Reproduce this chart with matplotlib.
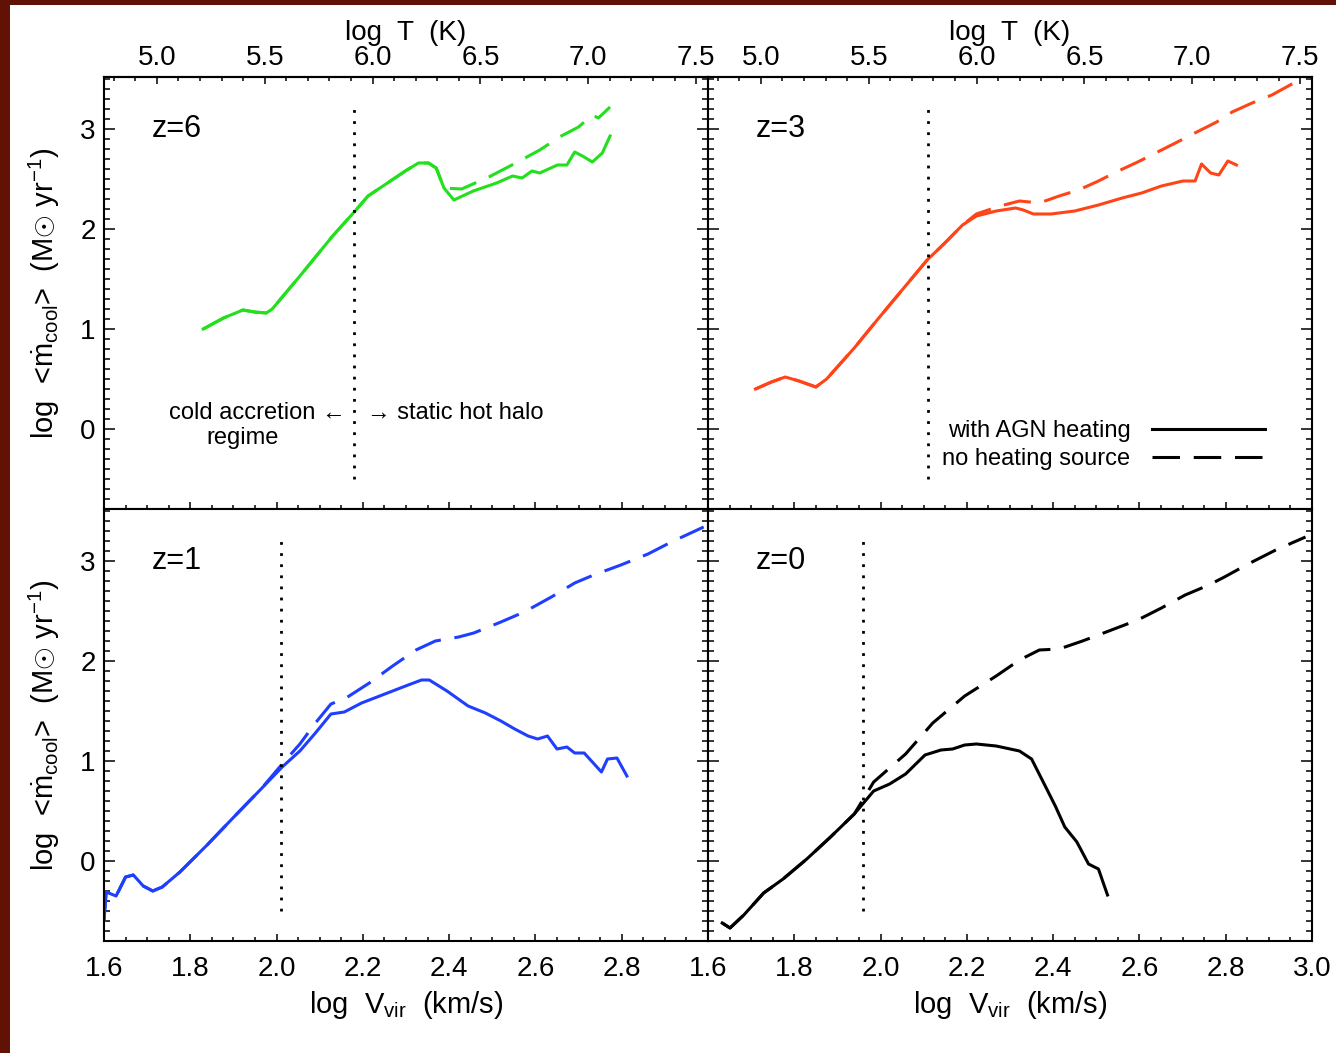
import matplotlib.pyplot as plt
from matplotlib.ticker import MultipleLocator, FormatStrFormatter
from matplotlib.patches import Rectangle
from matplotlib.lines import Line2D

# --- data: log Vvir (km/s) vs log <mdot_cool> ---
# z=6
v6_agn = [1.830, 1.877, 1.922, 1.949, 1.976, 1.990, 2.058, 2.130, 2.180, 2.212, 2.257, 2.302, 2.329, 2.352, 2.370,
          2.388, 2.411, 2.456, 2.510, 2.547, 2.569, 2.592, 2.610, 2.651, 2.673, 2.691, 2.709, 2.732, 2.755, 2.773]
m6_agn = [1.00, 1.11, 1.19, 1.17, 1.16, 1.20, 1.55, 1.93, 2.17, 2.33, 2.46, 2.59, 2.66, 2.66, 2.61,
          2.41, 2.29, 2.38, 2.46, 2.53, 2.51, 2.58, 2.56, 2.64, 2.64, 2.77, 2.73, 2.67, 2.76, 2.93]
v6_noheat = [1.830, 1.877, 1.922, 1.949, 1.976, 1.990, 2.058, 2.130, 2.180, 2.212, 2.257, 2.302, 2.329, 2.352,
             2.370, 2.388, 2.429, 2.492, 2.550, 2.610, 2.660, 2.700, 2.732, 2.746, 2.773]
m6_noheat = [1.00, 1.11, 1.19, 1.17, 1.16, 1.20, 1.55, 1.93, 2.17, 2.33, 2.46, 2.59, 2.66, 2.66,
             2.61, 2.41, 2.40, 2.52, 2.65, 2.79, 2.93, 3.02, 3.14, 3.11, 3.22]

# z=3
v3_agn = [1.710, 1.747, 1.779, 1.811, 1.850, 1.875, 1.939, 1.994, 2.048, 2.108, 2.149, 2.190, 2.222, 2.268, 2.313,
          2.331, 2.354, 2.395, 2.450, 2.505, 2.560, 2.605, 2.651, 2.701, 2.729, 2.744, 2.765, 2.784, 2.805, 2.825]
m3_agn = [0.40, 0.47, 0.52, 0.48, 0.42, 0.50, 0.81, 1.10, 1.38, 1.69, 1.86, 2.04, 2.13, 2.18, 2.21,
          2.19, 2.15, 2.15, 2.18, 2.24, 2.31, 2.36, 2.43, 2.48, 2.48, 2.65, 2.56, 2.54, 2.68, 2.64]
v3_noheat = [1.710, 1.747, 1.779, 1.811, 1.850, 1.875, 1.939, 1.994, 2.048, 2.108, 2.149, 2.190, 2.222, 2.277,
             2.322, 2.368, 2.414, 2.459, 2.505, 2.551, 2.596, 2.642, 2.688, 2.733, 2.779, 2.815, 2.861, 2.907,
             2.962, 3.000]
m3_noheat = [0.40, 0.47, 0.52, 0.48, 0.42, 0.50, 0.81, 1.10, 1.38, 1.69, 1.86, 2.04, 2.15, 2.23,
             2.28, 2.26, 2.33, 2.39, 2.48, 2.58, 2.67, 2.77, 2.87, 2.97, 3.07, 3.17, 3.26, 3.34,
             3.47, 3.56]

# z=1
v1_agn = [1.600, 1.605, 1.628, 1.650, 1.668, 1.691, 1.713, 1.735, 1.776, 1.839, 1.901, 1.964, 2.013, 2.054,
          2.090, 2.126, 2.157, 2.197, 2.251, 2.305, 2.336, 2.354, 2.395, 2.444, 2.484, 2.520, 2.552, 2.583,
          2.605, 2.628, 2.650, 2.673, 2.691, 2.713, 2.753, 2.767, 2.789, 2.812]
m1_agn = [-0.59, -0.31, -0.35, -0.16, -0.14, -0.25, -0.30, -0.26, -0.11, 0.16, 0.44, 0.72, 0.94, 1.10,
          1.28, 1.47, 1.49, 1.58, 1.67, 1.76, 1.81, 1.81, 1.70, 1.55, 1.48, 1.40, 1.32, 1.25,
          1.22, 1.25, 1.12, 1.14, 1.08, 1.08, 0.89, 1.02, 1.03, 0.85]
v1_noheat = [1.600, 1.605, 1.628, 1.650, 1.668, 1.691, 1.713, 1.735, 1.776, 1.839, 1.901, 1.964, 2.013, 2.054,
             2.090, 2.126, 2.161, 2.215, 2.269, 2.323, 2.368, 2.422, 2.457, 2.520, 2.574, 2.637, 2.691, 2.735,
             2.798, 2.861, 2.915, 2.990]
m1_noheat = [-0.59, -0.31, -0.35, -0.16, -0.14, -0.25, -0.30, -0.26, -0.11, 0.16, 0.44, 0.72, 0.97, 1.17,
             1.38, 1.57, 1.63, 1.78, 1.95, 2.11, 2.20, 2.24, 2.28, 2.39, 2.49, 2.64, 2.78, 2.86,
             2.96, 3.07, 3.19, 3.34]

# z=0
v0_agn = [1.633, 1.651, 1.683, 1.729, 1.774, 1.829, 1.884, 1.939, 1.984, 2.021, 2.058, 2.103, 2.140, 2.167,
          2.195, 2.222, 2.268, 2.322, 2.350, 2.377, 2.405, 2.427, 2.455, 2.482, 2.505, 2.526]
m0_agn = [-0.62, -0.67, -0.54, -0.32, -0.18, 0.02, 0.24, 0.47, 0.70, 0.77, 0.87, 1.06, 1.11, 1.12,
          1.16, 1.17, 1.15, 1.10, 1.02, 0.79, 0.55, 0.34, 0.19, -0.03, -0.08, -0.34]
v0_noheat = [1.633, 1.651, 1.683, 1.729, 1.774, 1.829, 1.884, 1.939, 1.984, 2.058, 2.121, 2.195, 2.268, 2.322,
             2.368, 2.414, 2.468, 2.523, 2.596, 2.651, 2.706, 2.761, 2.797, 2.852, 2.916, 2.985]
m0_noheat = [-0.62, -0.67, -0.54, -0.32, -0.18, 0.02, 0.24, 0.47, 0.79, 1.07, 1.38, 1.65, 1.85, 2.01,
             2.11, 2.12, 2.20, 2.29, 2.41, 2.53, 2.66, 2.76, 2.84, 2.97, 3.11, 3.24]

redshift_labels = ['z=6', 'z=3', 'z=1', 'z=0']
line_colors = ['#22e01c', '#ff4418', '#1f3fff', 'black']
transition_v = [2.18, 2.11, 2.01, 1.96]   # dotted lines
legend_labels = ['with AGN heating', 'no heating source']

plt.rcParams['font.family'] = ['Liberation Sans', 'DejaVu Sans']
plt.rcParams['mathtext.fontset'] = 'custom'
plt.rcParams['mathtext.rm'] = 'Liberation Sans'
plt.rcParams['mathtext.it'] = 'Liberation Sans:italic'
plt.rcParams['mathtext.bf'] = 'Liberation Sans:bold'

W, H = 1336, 1053
fig = plt.figure(figsize=(W / 100, H / 100), dpi=100, facecolor='#621205')
fig.add_artist(Rectangle((10 / W, 0), 1, 1 - 5 / H, transform=fig.transFigure,
                         facecolor='white', edgecolor='none', zorder=-5))

DASH = (0, (9, 4.5))
LW = 2.2


def v_to_t(v):
    return 2 * v + 1.555


def t_to_v(t):
    return (t - 1.555) / 2


# panel rectangles (figure fraction)
x_left, x_right, pw = 104 / W, 708 / W, 604 / W
y_top, y_bot, ph = 1 - 509 / H, 1 - 941 / H, 432 / H
rects = [(x_left, y_top), (x_right, y_top), (x_left, y_bot), (x_right, y_bot)]

series = [(v6_agn, m6_agn, v6_noheat, m6_noheat),
          (v3_agn, m3_agn, v3_noheat, m3_noheat),
          (v1_agn, m1_agn, v1_noheat, m1_noheat),
          (v0_agn, m0_agn, v0_noheat, m0_noheat)]

ylab = r'log  <$\dot{\mathrm{m}}_{\mathrm{cool}}$>  (M$\odot$ yr$^{-1}$)'
xlab = r'log  V$_{\mathrm{vir}}$  (km/s)'

for i, (x0, y0) in enumerate(rects):
    ax = fig.add_axes([x0, y0, pw, ph])
    top_row = i < 2
    left_col = i % 2 == 0
    ax.set_xlim(1.6, 3.0)
    ax.set_ylim(-0.8, 3.52)
    if left_col:
        ax.set_xticks([1.6, 1.8, 2.0, 2.2, 2.4, 2.6, 2.8])
    else:
        ax.set_xticks([1.6, 1.8, 2.0, 2.2, 2.4, 2.6, 2.8, 3.0])
    ax.xaxis.set_minor_locator(MultipleLocator(0.05))
    ax.xaxis.set_major_formatter(FormatStrFormatter('%.1f'))
    ax.yaxis.set_major_locator(MultipleLocator(1))
    ax.yaxis.set_minor_locator(MultipleLocator(0.1))
    ax.yaxis.set_major_formatter(FormatStrFormatter('%d'))
    ax.tick_params(which='both', direction='in', top=False, bottom=True, left=True, right=True,
                   labelbottom=not top_row, labelleft=left_col, labelsize=20, width=1.1)
    ax.tick_params(axis='x', which='major', length=5, pad=11)
    ax.tick_params(axis='x', which='minor', length=3)
    ax.tick_params(axis='y', which='major', length=8, pad=6)
    ax.tick_params(axis='y', which='minor', length=4)
    for s in ax.spines.values():
        s.set_linewidth(1.5)

    va, ma, vn, mn = series[i]
    c = line_colors[i]
    ax.plot(va, ma, color=c, lw=LW, solid_joinstyle='round')
    ax.plot(vn, mn, color=c, lw=LW, linestyle=DASH)
    ax.vlines(transition_v[i], -0.5, 3.2, colors='black', linestyles=(0, (1, 3)), lw=2)
    ax.text(1.71, 3.0, redshift_labels[i], fontsize=22, va='center', ha='left')

    if left_col:
        ax.set_ylabel(ylab, fontsize=21)
        ax.yaxis.set_label_coords(-0.07, 0.5)
    if not top_row:
        ax.set_xlabel(xlab, fontsize=21, labelpad=5)
    else:
        sec = ax.secondary_xaxis('top', functions=(v_to_t, t_to_v))
        sec.xaxis.set_major_locator(MultipleLocator(0.5))
        sec.xaxis.set_minor_locator(MultipleLocator(0.1))
        sec.xaxis.set_major_formatter(FormatStrFormatter('%.1f'))
        sec.tick_params(which='both', direction='in', labelsize=20, width=1.1)
        sec.tick_params(which='major', length=5, pad=4)
        sec.tick_params(which='minor', length=3)
        sec.spines['top'].set_linewidth(1.5)
        sec.set_xlabel('log  T  (K)', fontsize=20, labelpad=4)

    if i == 0:
        ax.text(2.16, 0.16, 'cold accretion \u2190', fontsize=17, ha='right', va='center')
        ax.text(1.922, -0.09, 'regime', fontsize=17, ha='center', va='center')
        ax.text(2.21, 0.16, '\u2192 static hot halo', fontsize=17, ha='left', va='center')
    if i == 1:
        handles = [Line2D([], [], color='black', lw=LW),
                   Line2D([], [], color='black', lw=LW, linestyle=DASH)]
        ax.legend(handles, legend_labels, loc='lower right', bbox_to_anchor=(0.922, 0.09),
                  frameon=False, markerfirst=False, handlelength=4.8, handletextpad=0.9,
                  labelspacing=0.25, fontsize=17, borderpad=0, borderaxespad=0)

fig.savefig('out.png', dpi=100, facecolor=fig.get_facecolor())
